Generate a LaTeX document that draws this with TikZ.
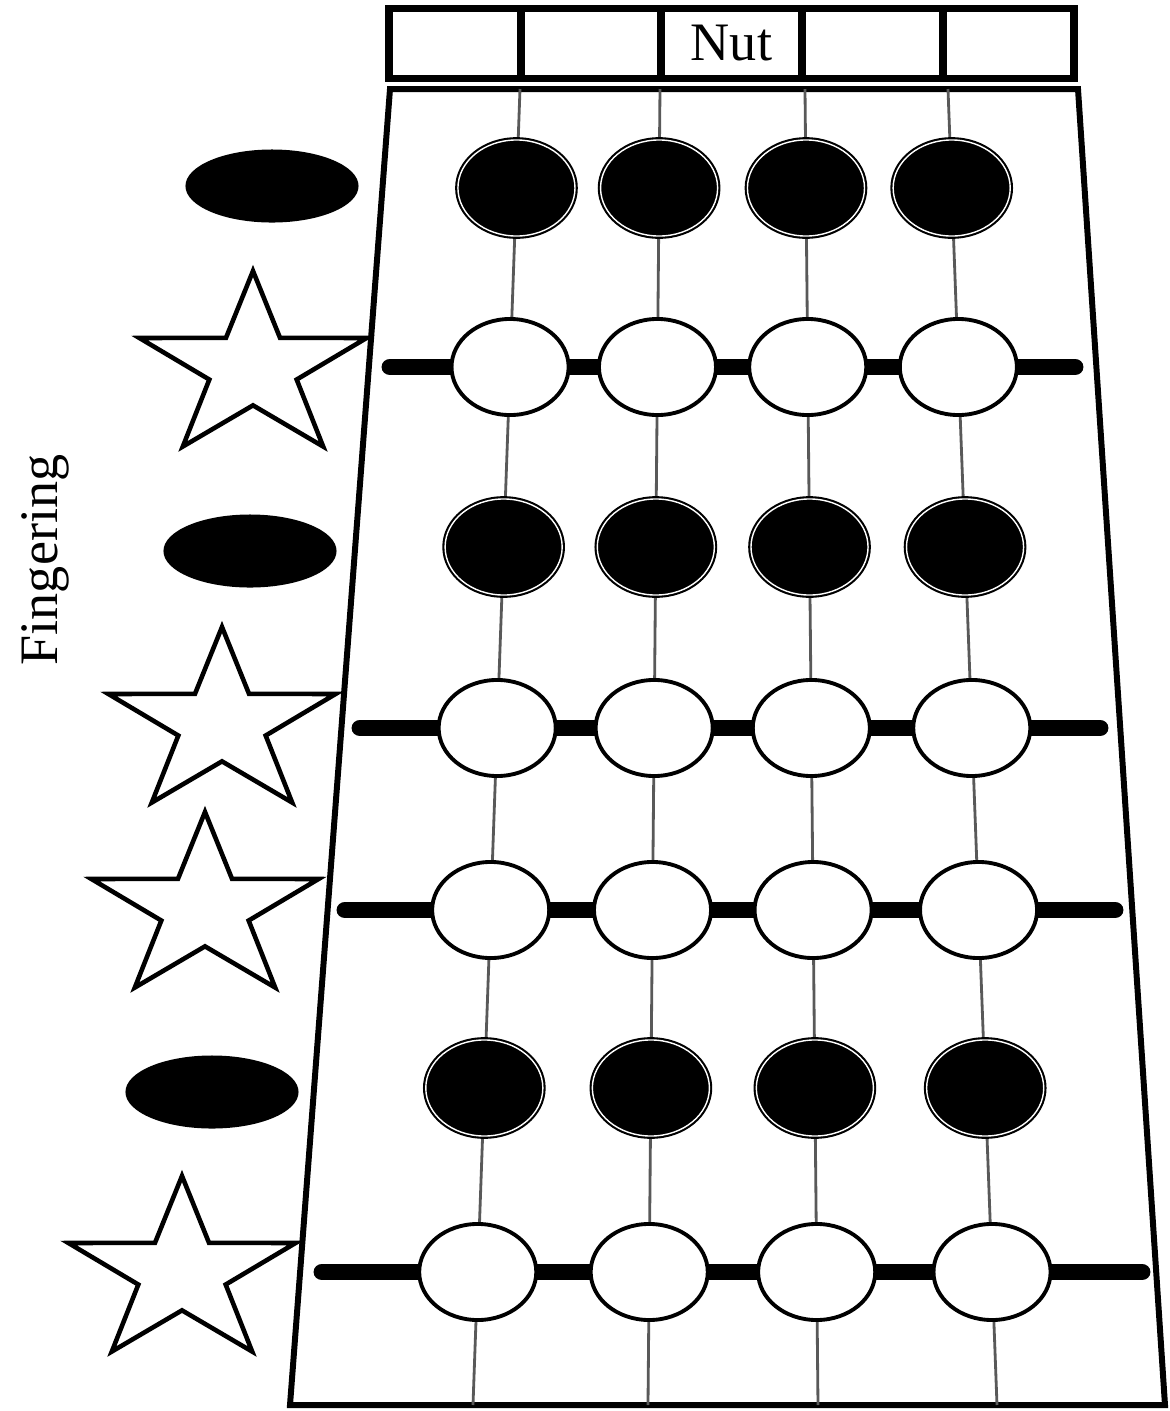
\documentclass[tikz,border=0pt]{standalone}
\usepackage{fontspec}
\setmainfont{Liberation Serif}
\usetikzlibrary{shapes.geometric,calc}
\tikzset{
  cell/.style={draw,line width=2pt,minimum height=0.695cm,inner sep=0pt},
  string/.style={gray!70!black,line width=0.8pt},
  fret/.style={line width=4.8pt,line cap=round},
  beadw/.style={ellipse,draw,fill=white,line width=1.1pt,minimum width=1.17cm,minimum height=0.96cm,inner sep=0pt},
  beadb/.style={beadw,fill=black,line width=0.6pt,double=white,double distance=0.4pt},
  oval/.style={ellipse,fill=black,minimum width=1.73cm,minimum height=0.73cm,inner sep=0pt},
  starmark/.style={star,star points=5,star point ratio=2.6,draw,line width=1.3pt,minimum size=1.94cm,inner sep=0pt,xscale=1.23,transform shape}
}
\begin{document}
\begin{tikzpicture}[x=0.01cm,y=-0.01cm,font=\fontsize{15.4}{18}\selectfont]
\useasboundingbox (0,0) rectangle (1170,1411);
\foreach \i/\cx/\w/\t in {1/455/132/{},2/591/140/{},3/731.5/141/Nut,4/872.5/141/{},5/1008.5/131/{}}
  \node[cell,minimum width=\w*0.01cm] (nut\i) at (\cx,43.5) {\t};
\coordinate (tl) at (390,89); \coordinate (tr) at (1078,89);
\coordinate (br) at (1165,1405); \coordinate (bl) at (290,1405);
\draw[line width=1.7pt] (tl) -- (tr) -- (br) -- (bl) -- cycle;
\foreach \s/\xt/\xb in {1/520/473,2/660/648,3/805/818,4/948/997}{
  \coordinate (top\s) at (\xt,89);
  \coordinate (bot\s) at (\xb,1405);
  \draw[string] (top\s) -- (bot\s);
}
\foreach \n/\y/\xl/\xr in {2/367/390/1075,4/728/360/1100,5/910/345/1115,7/1272/322/1142}{
  \coordinate (fret\n l) at (\xl,\y);
  \coordinate (fret\n r) at (\xr,\y);
  \draw[fret] (fret\n l) -- (fret\n r);
}
\foreach \n/\y/\k in {1/188/beadb,2/367/beadw,3/547/beadb,4/728/beadw,5/910/beadw,6/1088/beadb,7/1272/beadw}
  \foreach \s in {1,...,4}
    \node[\k] (bead\n\s) at ($(top\s)!{(\y-89)/1316}!(bot\s)$) {};
\foreach \n/\cx/\cy in {1/272/186,2/250/551,3/212/1092}
  \node[oval] (oval\n) at (\cx,\cy) {};
\foreach \n/\cx/\cy in {1/253/368,2/222/724,3/205/909,4/182/1273}{
  \begin{scope}[shift={(\cx,\cy)}]
    \node[starmark] (star\n) at (0,0) {};
  \end{scope}
}
\node[rotate=90] (fingering) at (45,560) {Fingering};
\end{tikzpicture}
\end{document}
